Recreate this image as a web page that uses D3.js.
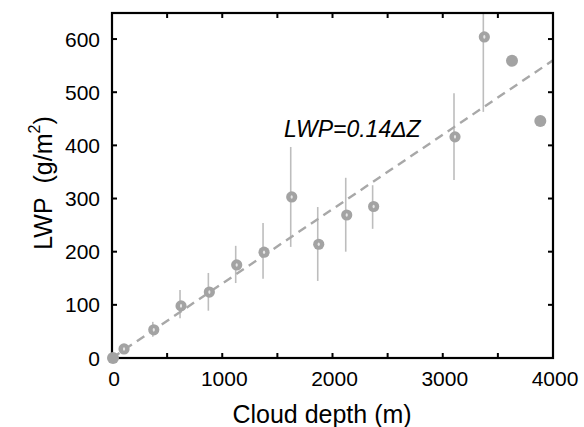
<!DOCTYPE html>
<html lang="en">
<head>
<meta charset="utf-8" />
<title>LWP vs cloud depth</title>
<style>
  html,body{margin:0;background:#fff;}
  svg{display:block;font-family:"Liberation Sans",Arial,Helvetica,sans-serif;}
</style>
</head>
<body>
<svg id="chart" width="584" height="427"></svg>
<script src="https://d3js.org/d3.v7.min.js"></script>
<script>
// ---- data ----
const depth  = [0, 100, 370, 617, 874, 1122, 1370, 1621, 1866, 2120, 2364, 3102, 3368, 3619, 3876];
const lwp    = [0, 17, 53, 98, 124, 175, 199, 303, 214, 269, 285, 416, 604, 559, 446];
const errLo  = [null, null, 40, 75, 89, 141, 149, 209, 145, 200, 243, 335, 463, null, null];
const errHi  = [null, null, 68, 128, 160, 211, 254, 397, 284, 339, 325, 498, 650, null, null];
const hollow = [false, true, true, true, true, true, true, true, true, true, true, true, true, false, false];
const xTicks = [0, 1000, 2000, 3000, 4000];
const yTicks = [0, 100, 200, 300, 400, 500, 600];
const slope = 0.14;

// ---- layout ----
const svg = d3.select('#chart');
const m = {left:112, top:13, right:553, bottom:358};
const x = d3.scaleLinear().domain([0,4000]).range([m.left,m.right]);
const y = d3.scaleLinear().domain([0,649]).range([m.bottom,m.top]);
const grey = '#a3a3a3';

// clip for bars + fit line
svg.append('clipPath').attr('id','clip').append('rect')
  .attr('x',m.left).attr('y',m.top).attr('width',m.right-m.left).attr('height',m.bottom-m.top);
const plot = svg.append('g').attr('clip-path','url(#clip)');

// error bars
const pts = depth.map((d,i)=>({x:d,y:lwp[i],lo:errLo[i],hi:errHi[i],h:hollow[i]}));
plot.selectAll('line.err').data(pts.filter(d=>d.lo!=null)).enter().append('line')
  .attr('class','err')
  .attr('x1',d=>x(d.x)).attr('x2',d=>x(d.x))
  .attr('y1',d=>y(d.lo)).attr('y2',d=>y(d.hi))
  .attr('stroke','#bdbdbd').attr('stroke-width',1.6);

// fit line
plot.append('line')
  .attr('x1',x(0)).attr('y1',y(0)).attr('x2',x(4000)).attr('y2',y(slope*4000))
  .attr('stroke','#a8a8a8').attr('stroke-width',2.4).attr('stroke-dasharray','9,6');

// frame + ticks
const axes = svg.append('g').attr('stroke','#000');
const tk = 5;
d3.range(500,4000,500).forEach(v=>{
  axes.append('line').attr('x1',x(v)).attr('x2',x(v)).attr('y1',m.bottom).attr('y2',m.bottom-tk).attr('stroke-width',2);
  axes.append('line').attr('x1',x(v)).attr('x2',x(v)).attr('y1',m.top).attr('y2',m.top+tk).attr('stroke-width',2);
});
yTicks.slice(1).forEach(v=>{
  axes.append('line').attr('y1',y(v)).attr('y2',y(v)).attr('x1',m.left).attr('x2',m.left+tk).attr('stroke-width',2);
  axes.append('line').attr('y1',y(v)).attr('y2',y(v)).attr('x1',m.right).attr('x2',m.right-tk).attr('stroke-width',2);
});
axes.append('rect').attr('x',m.left).attr('y',m.top).attr('width',m.right-m.left).attr('height',m.bottom-m.top)
  .attr('fill','none').attr('stroke-width',2.2);

// markers (drawn over the frame, like the origin point in the picture)
const mk = svg.append('g').selectAll('g.pt').data(pts).enter().append('g').attr('class','pt')
  .attr('transform',d=>`translate(${x(d.x)+1},${y(d.y)})`);
mk.append('circle').attr('r',d=>d.h?5.6:6).attr('fill',grey);
mk.filter(d=>d.h).append('ellipse').attr('rx',1.1).attr('ry',1.8).attr('fill','#e6e6e6');

// tick labels
svg.selectAll('text.xt').data(xTicks).enter().append('text')
  .attr('x',d=>x(d)+2).attr('y',386).attr('text-anchor','middle')
  .attr('font-size',21).text(d=>d);
svg.selectAll('text.yt').data(yTicks).enter().append('text')
  .attr('x',m.left-12).attr('y',d=>y(d)+7.5).attr('text-anchor','end')
  .attr('font-size',21).text(d=>d);

// axis titles
svg.append('text').attr('x',322).attr('y',423).attr('text-anchor','middle')
  .attr('font-size',25).text('Cloud depth (m)');
const yl = svg.append('text').attr('transform','translate(52,183) rotate(-90)')
  .attr('text-anchor','middle').attr('font-size',25);
yl.append('tspan').text('LWP\u00a0\u00a0(g/m');
yl.append('tspan').attr('font-size',16).attr('dy',-12).text('2');
yl.append('tspan').attr('dy',12).text(')');

// equation
svg.append('text').attr('x',284).attr('y',137).attr('font-size',23).attr('font-style','italic')
  .text('LWP=0.14\u0394Z');
</script>
</body>
</html>
